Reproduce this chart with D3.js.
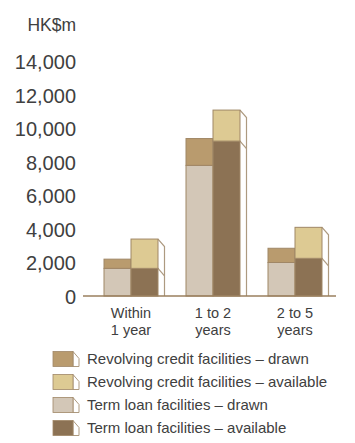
<!DOCTYPE html>
<html>
<head>
<meta charset="utf-8">
<script src="https://cdn.jsdelivr.net/npm/d3@7"></script>
<style>
  html, body { margin: 0; padding: 0; background: #fff; }
  svg { display: block; font-family: "Liberation Sans", Arial, Helvetica, sans-serif; }
</style>
</head>
<body>
<svg id="chart" width="355" height="443"></svg>
<script>
// Maturity buckets (two-line labels)
const categories = ["Within|1 year", "1 to 2|years", "2 to 5|years"];

// HK$m per bucket
const revolvingDrawn     = [550, 1600, 850];
const revolvingAvailable = [1750, 1850, 1850];
const termDrawn          = [1650, 7800, 2000];
const termAvailable      = [1650, 9250, 2250];

const yTicks = [0, 2000, 4000, 6000, 8000, 10000, 12000, 14000];
const unitLabel = "HK$m";

const seriesNames = [
  "Revolving credit facilities – drawn",
  "Revolving credit facilities – available",
  "Term loan facilities – drawn",
  "Term loan facilities – available"
];
const colors = {
  revDrawn: "#b99b6e",
  revAvail: "#ddca93",
  termDrawn: "#d3c7b7",
  termAvail: "#8c7254"
};
const seriesColors = [colors.revDrawn, colors.revAvail, colors.termDrawn, colors.termAvail];
const edge = "#a08766";
const sideEdge = "#ad9a80";
const textColor = "#404040";

const svg = d3.select("#chart");

const x = d3.scaleBand().domain(categories).range([90, 336]).paddingInner(0).paddingOuter(0);
const y = d3.scaleLinear().domain([0, 14000]).range([296, 61.5]);
const barW = 27;
const depthX = 6.5, depthY = 7.5;

// Y axis labels (no axis line)
const yAxis = d3.axisLeft(y).tickValues(yTicks).tickSize(0).tickPadding(0)
  .tickFormat(d3.format(","));
const gy = svg.append("g").attr("transform", "translate(76,0)").call(yAxis);
gy.select(".domain").remove();
gy.selectAll("text")
  .attr("fill", textColor)
  .style("font-size", "20px")
  .style("font-family", "'Liberation Sans', Arial, sans-serif")
  .attr("dy", "0.36em");

svg.append("text")
  .attr("x", 76).attr("y", 25).attr("dy", "0.36em")
  .attr("text-anchor", "end")
  .attr("fill", textColor)
  .style("font-size", "17.5px")
  .text(unitLabel);

// Stacked bars per bucket: left = drawn, right = available
const groups = svg.append("g").selectAll("g")
  .data(categories.map((c, i) => ({ c, i })))
  .join("g");

groups.each(function (d) {
  const g = d3.select(this);
  const cx = x(d.c) + x.bandwidth() / 2;
  const i = d.i;

  // Right bar side face (white, drawn behind)
  const xr = cx + barW;
  const topR = y(termAvailable[i] + revolvingAvailable[i]);
  const midR = y(termAvailable[i]);
  g.append("path")
    .attr("d", `M${xr},${topR} L${xr + depthX},${topR + depthY} L${xr + depthX},${y(0)} L${xr},${y(0)} Z`)
    .attr("fill", "#fff").attr("stroke", "none");
  g.append("path")
    .attr("d", `M${xr},${topR} L${xr + depthX},${topR + depthY} L${xr + depthX},${y(0)}`)
    .attr("fill", "none").attr("stroke", sideEdge).attr("stroke-width", 1.2);
  g.append("path")
    .attr("d", `M${xr},${midR} L${xr + depthX},${midR + depthY}`)
    .attr("fill", "none").attr("stroke", sideEdge).attr("stroke-width", 1.2);

  const segs = [
    { x0: cx - barW, v0: 0, v1: termDrawn[i], fill: colors.termDrawn },
    { x0: cx - barW, v0: termDrawn[i], v1: termDrawn[i] + revolvingDrawn[i], fill: colors.revDrawn },
    { x0: cx, v0: 0, v1: termAvailable[i], fill: colors.termAvail },
    { x0: cx, v0: termAvailable[i], v1: termAvailable[i] + revolvingAvailable[i], fill: colors.revAvail }
  ];
  g.selectAll("rect").data(segs).join("rect")
    .attr("x", s => s.x0)
    .attr("y", s => y(s.v1))
    .attr("width", barW)
    .attr("height", s => y(s.v0) - y(s.v1))
    .attr("fill", s => s.fill)
    .attr("stroke", edge)
    .attr("stroke-width", 1);
});

// Baseline
svg.append("line")
  .attr("x1", 83).attr("x2", 336)
  .attr("y1", y(0)).attr("y2", y(0))
  .attr("stroke", "#9a7f5e").attr("stroke-width", 1.5);

// Category labels
const xl = svg.append("g").selectAll("text")
  .data(categories).join("text")
  .attr("x", d => x(d) + x.bandwidth() / 2)
  .attr("y", 313)
  .attr("text-anchor", "middle")
  .attr("fill", textColor)
  .style("font-size", "14.5px");
xl.each(function (d) {
  const t = d3.select(this);
  d.split("|").forEach((line, k) => {
    t.append("tspan")
      .attr("x", x(d) + x.bandwidth() / 2)
      .attr("dy", k === 0 ? "0.36em" : "1.15em")
      .text(line);
  });
});

// Legend
const legend = svg.append("g").selectAll("g")
  .data(seriesNames.map((n, k) => ({ n, k })))
  .join("g")
  .attr("transform", d => `translate(53,${359 + d.k * 23})`);

legend.each(function (d) {
  const g = d3.select(this);
  const w = 20, h = 15;
  g.append("path")
    .attr("d", `M${w},${-h / 2} L${w + 6},${-h / 2 + 7} L${w + 6},${h / 2} L${w},${h / 2} Z`)
    .attr("fill", "#fff").attr("stroke", sideEdge).attr("stroke-width", 1);
  g.append("rect")
    .attr("x", 0).attr("y", -h / 2)
    .attr("width", w).attr("height", h)
    .attr("fill", seriesColors[d.k])
    .attr("stroke", edge).attr("stroke-width", 0.8);
  g.append("text")
    .attr("x", 34).attr("y", 0).attr("dy", "0.36em")
    .attr("fill", textColor)
    .style("font-size", "15px")
    .text(d.n);
});
</script>
</body>
</html>
